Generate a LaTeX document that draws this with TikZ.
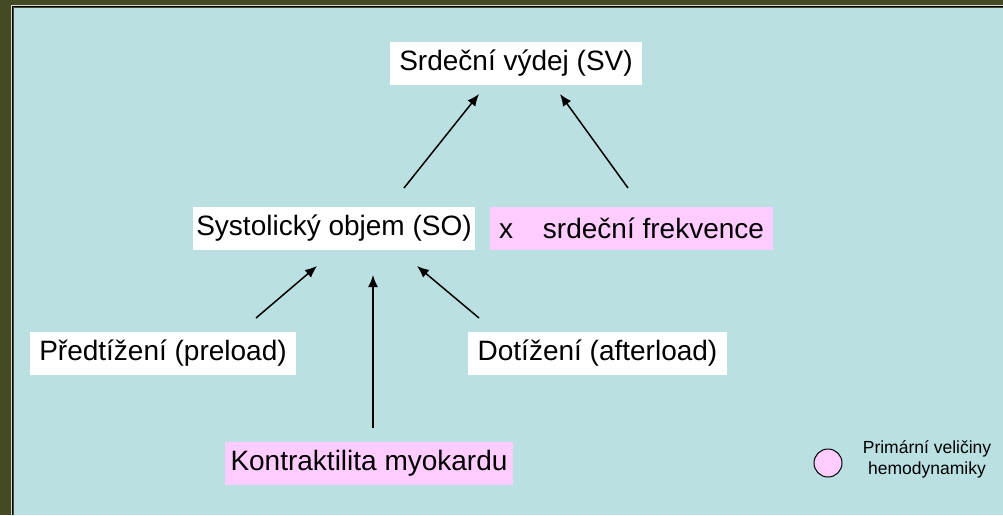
\documentclass[tikz,border=0pt]{standalone}
\usepackage{fontspec}
\setmainfont{Liberation Sans}
\usetikzlibrary{arrows.meta}
\definecolor{bgcyan}{RGB}{186,224,226}
\definecolor{frameolive}{RGB}{67,74,36}
\definecolor{pinkbox}{RGB}{255,204,255}
\tikzset{
  box/.style={fill=white, inner sep=0pt, minimum height=43pt, font=\fontsize{28}{32}\selectfont, text=black},
  pbox/.style={box, fill=pinkbox},
  arr/.style={line width=1.5pt, -{Latex[length=12pt,width=10pt]}},
}
\begin{document}
\begin{tikzpicture}[x=1pt,y=-1pt]
\useasboundingbox (0,0) rectangle (1003,515);
\fill[frameolive] (0,0) rectangle (1003,515);
\fill[bgcyan] (13.5,7.5) rectangle (1003,515);
\draw[gray!30, line width=1pt] (11.5,515) -- (11.5,5.5) -- (1003,5.5);
\draw[black, line width=1.2pt] (12.8,515) -- (12.8,6.8) -- (1003,6.8);

\node[box, minimum width=252pt] (sv) at (516,63.5) {Srdeční výdej (SV)};
\node[box, minimum width=282pt] (so) at (334,228.5) {Systolický objem (SO)};
\node[pbox, minimum width=283pt] (sf) at (631.5,228.5) {x\hspace{30pt}srdeční frekvence};
\node[box, minimum width=266pt] (pre) at (163,353.5) {Předtížení (preload)};
\node[box, minimum width=259pt] (aft) at (597.5,353.5) {Dotížení (afterload)};
\node[pbox, minimum width=288pt] (kon) at (369,463.5) {Kontraktilita myokardu};

\node[circle, draw=black, line width=1pt, fill=pinkbox, minimum size=28pt, inner sep=0pt] (lc) at (828,463) {};
\node[align=center, font=\fontsize{17.5}{21}\selectfont, inner sep=0pt] (lt) at (927,459) {Primární veličiny\\hemodynamiky};

\coordinate (a1s) at (404,188); \coordinate (a1e) at (479,94);
\coordinate (a2s) at (628,188); \coordinate (a2e) at (560,94);
\coordinate (a3s) at (256,318); \coordinate (a3e) at (317,266);
\coordinate (a4s) at (373,428); \coordinate (a4e) at (373,275);
\coordinate (a5s) at (479,318); \coordinate (a5e) at (417,266);
\draw[arr] (a1s) -- (a1e);
\draw[arr] (a2s) -- (a2e);
\draw[arr] (a3s) -- (a3e);
\draw[arr] (a4s) -- (a4e);
\draw[arr] (a5s) -- (a5e);
\end{tikzpicture}
\end{document}
